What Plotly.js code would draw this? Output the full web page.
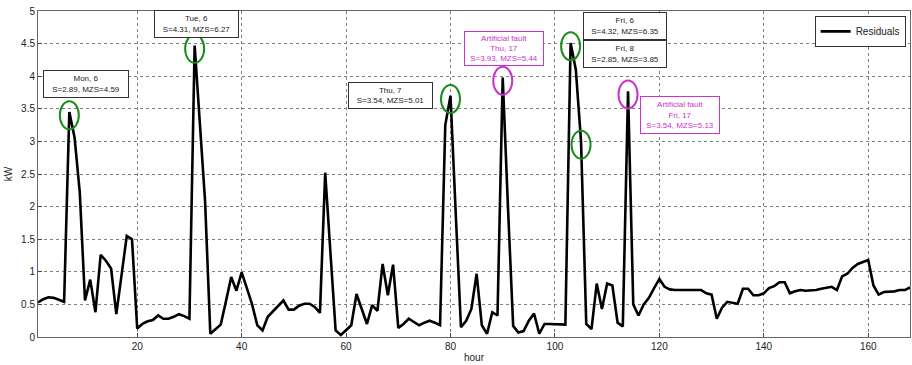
<!DOCTYPE html>
<html>
<head>
<meta charset="utf-8">
<script src="https://cdn.plot.ly/plotly-3.0.1.min.js"></script>
<style>html,body{margin:0;padding:0;background:#fff}#chart{width:912px;height:365px}</style>
</head>
<body>
<div id="chart"></div>
<script>
// Hourly residuals (kW), hours 1..168
const residuals = [
  0.53, 0.58, 0.61, 0.60, 0.57, 0.54, 3.45, 3.06, 2.22, 0.56,
  0.88, 0.38, 1.26, 1.17, 1.05, 0.35, 0.95, 1.55, 1.50, 0.13,
  0.20, 0.24, 0.26, 0.33, 0.28, 0.28, 0.31, 0.35, 0.32, 0.28,
  4.47, 3.30, 2.08, 0.05, 0.12, 0.19, 0.55, 0.92, 0.71, 0.99,
  0.75, 0.50, 0.18, 0.10, 0.31, 0.39, 0.47, 0.56, 0.42, 0.42,
  0.48, 0.51, 0.51, 0.46, 0.37, 2.52, 1.30, 0.10, 0.03, 0.10,
  0.18, 0.66, 0.43, 0.20, 0.49, 0.40, 1.12, 0.64, 1.11, 0.14,
  0.20, 0.28, 0.23, 0.18, 0.22, 0.25, 0.22, 0.18, 3.25, 3.70,
  1.90, 0.15, 0.25, 0.43, 0.97, 0.18, 0.05, 0.38, 0.33, 3.98,
  2.00, 0.17, 0.07, 0.09, 0.25, 0.36, 0.05, 0.20, 0.20, 0.20,
  0.20, 0.19, 4.51, 4.10, 3.00, 0.20, 0.12, 0.82, 0.43, 0.82,
  0.79, 0.22, 0.16, 3.77, 0.50, 0.33, 0.50, 0.60, 0.75, 0.89,
  0.77, 0.73, 0.72, 0.72, 0.72, 0.72, 0.72, 0.72, 0.67, 0.65,
  0.28, 0.45, 0.54, 0.53, 0.51, 0.74, 0.74, 0.64, 0.64, 0.67,
  0.75, 0.78, 0.84, 0.84, 0.67, 0.70, 0.72, 0.71, 0.71, 0.72,
  0.74, 0.76, 0.77, 0.72, 0.93, 0.97, 1.06, 1.12, 1.15, 1.18,
  0.79, 0.65, 0.69, 0.69, 0.70, 0.72, 0.72, 0.76
];
const hours = residuals.map((_, i) => i + 1);

// Detected anomalies (circled hours) and artificial faults
const detectedHours = [7, 31, 80, 103, 105];
const faultHours = [90, 114];

// Annotation labels
const detectedLabels = [
  "Mon, 6<br>S=2.89, MZS=4.59",
  "Tue, 6<br>S=4.31, MZS=6.27",
  "Thu, 7<br>S=3.54, MZS=5.01",
  "Fri, 6<br>S=4.32, MZS=6.35",
  "Fri, 8<br>S=2.85, MZS=3.85"
];
const faultLabels = [
  "Artificial fault<br>Thu, 17<br>S=3.93, MZS=5.44",
  "Artificial fault<br>Fri, 17<br>S=3.54, MZS=5.13"
];

const GREEN = "#1a8c1a";
const MAGENTA = "#cc33cc";

const shapes = [];
function ring(h, color) {
  shapes.push({
    type: "circle", xref: "x", yref: "y",
    xsizemode: "pixel", ysizemode: "pixel",
    xanchor: h, yanchor: residuals[h - 1] - 0.05,
    x0: -9.5, x1: 9.5, y0: -14, y1: 14,
    line: {color: color, width: 2}
  });
}
detectedHours.forEach(h => ring(h, GREEN));
faultHours.forEach(h => ring(h, MAGENTA));

const FONT = "Liberation Sans, Arial, sans-serif";
function box(text, x, y, w, h, color, border) {
  return {
    text: text, xref: "x", yref: "y", x: x, y: y,
    showarrow: false, align: "center",
    width: w, height: h, borderpad: 1, borderwidth: 1,
    bordercolor: border, bgcolor: "#ffffff",
    font: {family: FONT, size: 8, color: color}
  };
}
const annotations = [
  box(detectedLabels[0], 10.2, 3.88, 82, 24, "#222", "#333"),
  box(detectedLabels[1], 31.3, 4.80, 81, 24, "#222", "#333"),
  box(detectedLabels[2], 68.6, 3.71, 81, 23, "#222", "#333"),
  box(detectedLabels[3], 113.4, 4.77, 80, 24, "#222", "#333"),
  box(detectedLabels[4], 113.4, 4.34, 80, 24, "#222", "#333"),
  box(faultLabels[0], 90.2, 4.43, 76, 31, MAGENTA, MAGENTA),
  box(faultLabels[1], 123.9, 3.41, 76, 34, MAGENTA, MAGENTA)
];

const trace = {
  x: hours, y: residuals, type: "scatter", mode: "lines",
  name: "Residuals", line: {color: "#000", width: 2.6}
};

const axisCommon = {
  showline: true, mirror: true, linecolor: "#666", linewidth: 1,
  ticks: "inside", ticklen: 4, tickcolor: "#444",
  showgrid: true, gridcolor: "#808080", griddash: "dot", gridwidth: 1,
  zeroline: false, tickfont: {family: FONT, size: 10, color: "#222"}
};

const layout = {
  width: 912, height: 365,
  margin: {l: 38, r: 2, t: 11, b: 28},
  paper_bgcolor: "#fff", plot_bgcolor: "#fff",
  showlegend: true,
  legend: {
    x: 0.995, xanchor: "right", y: 0.985, yanchor: "top",
    bordercolor: "#333", borderwidth: 1, bgcolor: "#fff",
    font: {family: FONT, size: 10, color: "#222"},
    itemwidth: 30
  },
  xaxis: Object.assign({}, axisCommon, {
    range: [1, 168], tick0: 0, dtick: 20,
    title: {text: "hour", font: {family: FONT, size: 10, color: "#222"}, standoff: 2}
  }),
  yaxis: Object.assign({}, axisCommon, {
    range: [0, 5], dtick: 0.5,
    title: {text: "kW", font: {family: FONT, size: 10, color: "#222"}, standoff: 6}
  }),
  shapes: shapes,
  annotations: annotations
};

Plotly.newPlot("chart", [trace], layout, {staticPlot: true, displayModeBar: false});
</script>
</body>
</html>
